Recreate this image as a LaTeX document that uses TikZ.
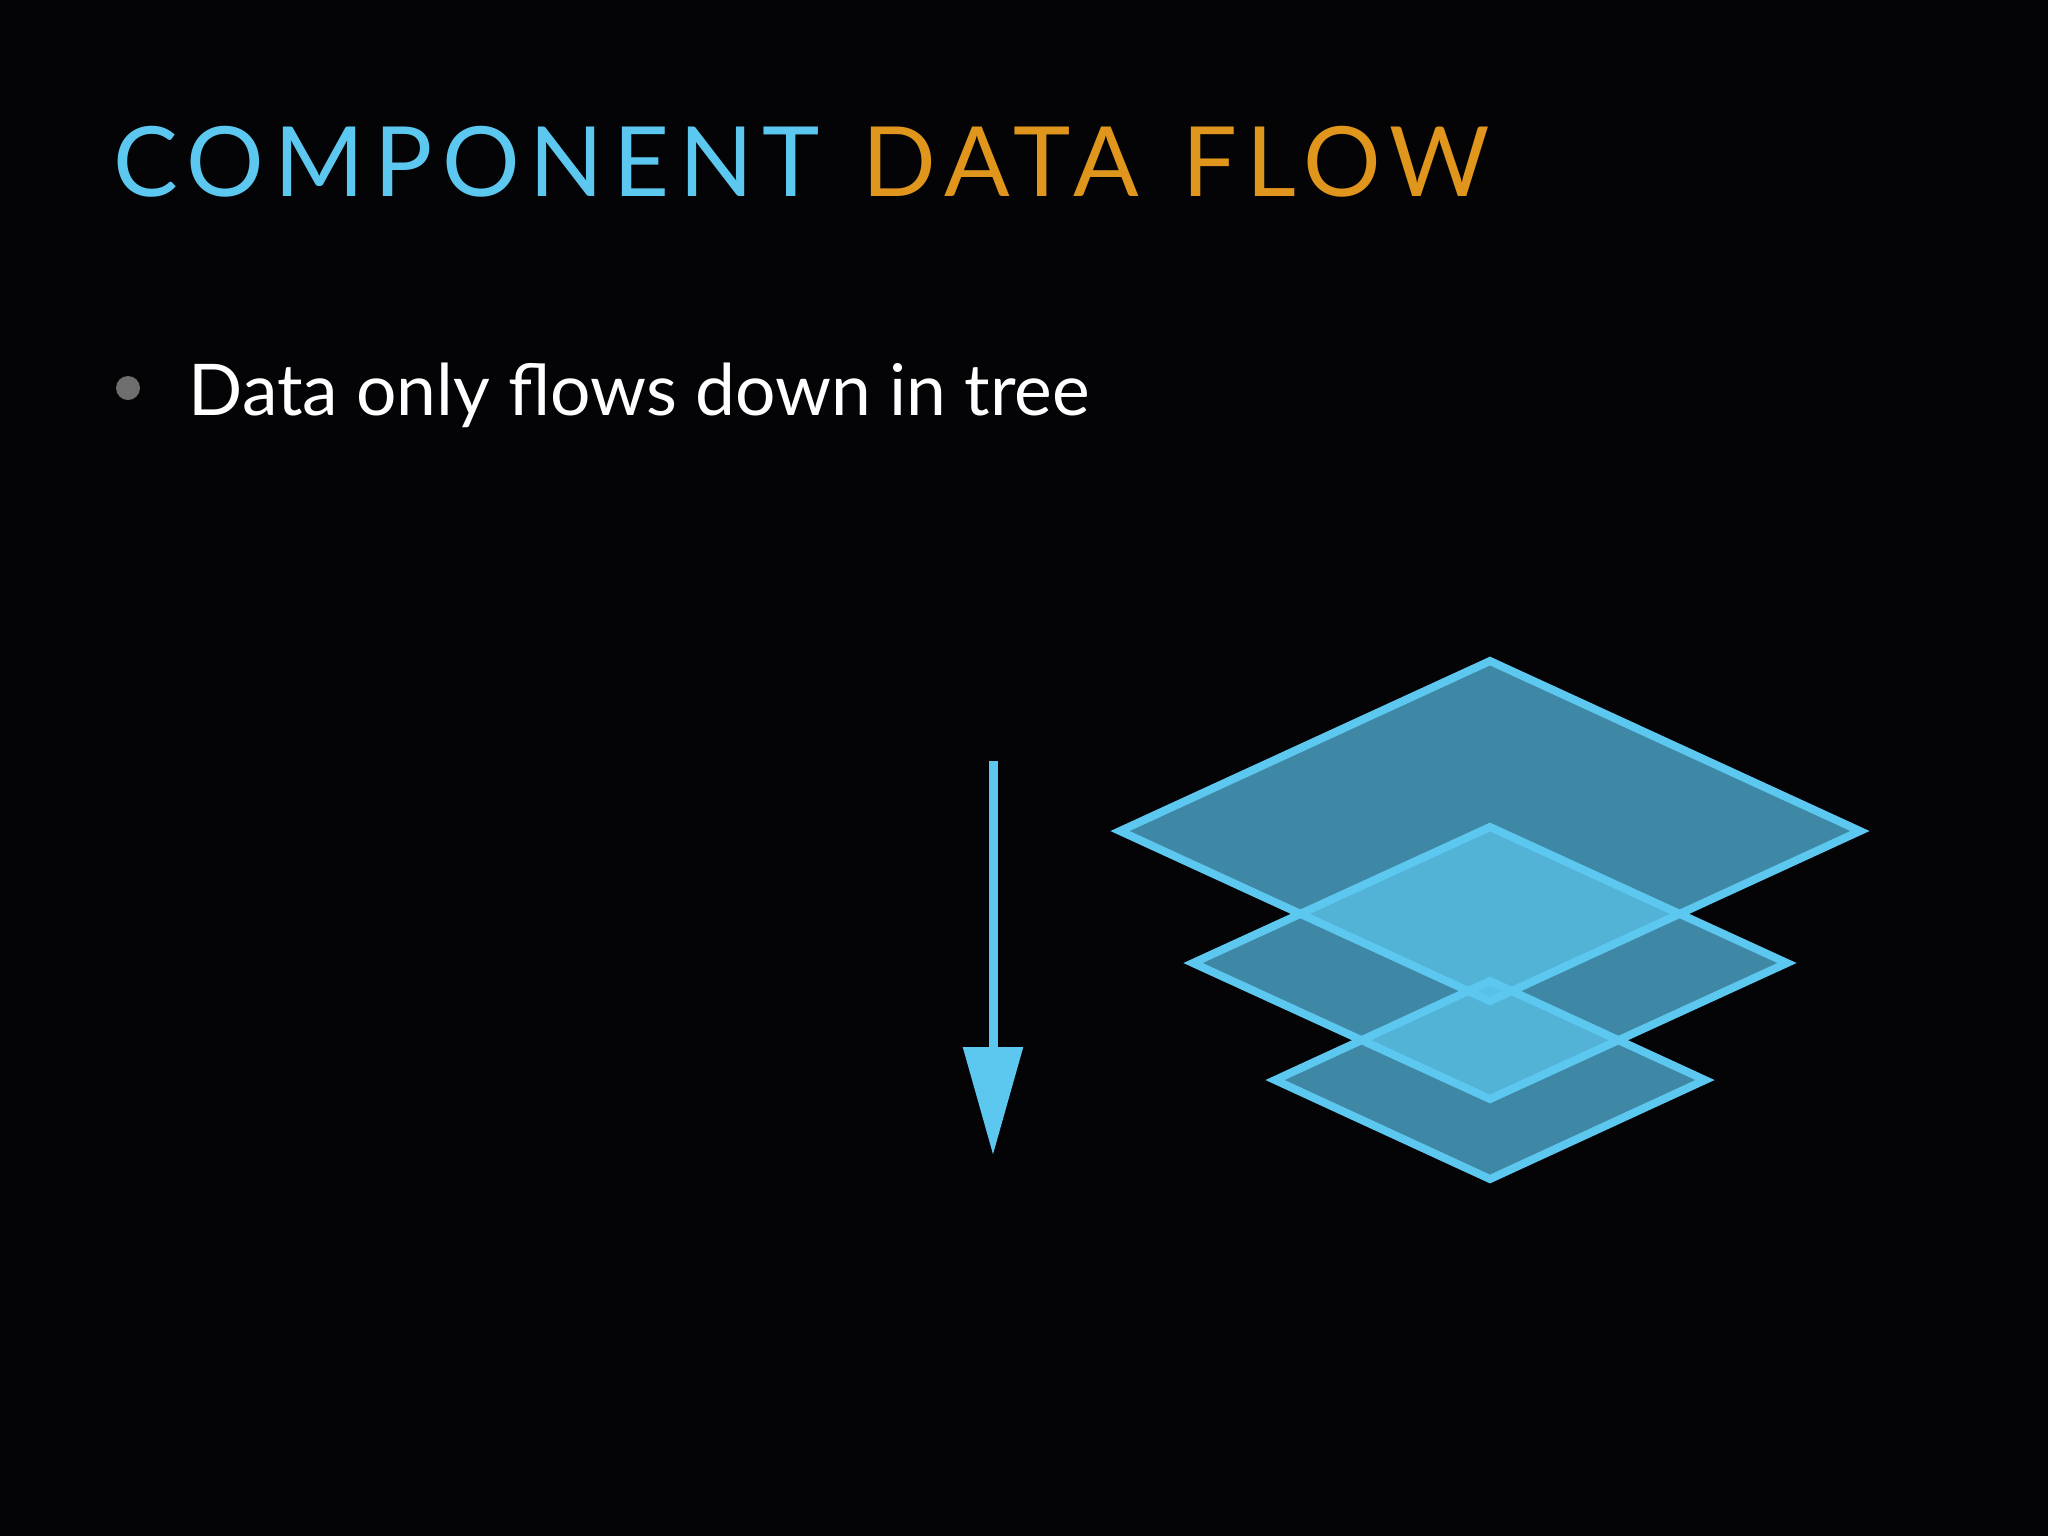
\documentclass[tikz,border=0pt]{standalone}
\usepackage{fontspec}
\setmainfont{Lato}
\newfontfamily\titlefont[LetterSpace=10, WordSpace=1.25]{Lato}
\usetikzlibrary{arrows.meta}
\definecolor{flowblue}{RGB}{92,200,240}
\definecolor{floworange}{RGB}{224,150,28}
\definecolor{slidebg}{RGB}{4,4,7}
\definecolor{bulletgray}{RGB}{110,110,110}
\tikzstyle{layerfill}=[fill=flowblue, fill opacity=0.68]
\tikzstyle{layeredge}=[draw=flowblue, line width=0.8mm, line join=miter]
\tikzset{>={Triangle[length=10.8mm, width=5.8mm]}}

\begin{document}
\begin{tikzpicture}[x=0.1mm, y=-0.1mm]
\fill[slidebg] (0,0) rectangle (2048,1536);
\useasboundingbox (0,0) rectangle (2048,1536);

% heading and bullet
\node[anchor=base west, inner sep=0pt, font=\titlefont\fontsize{27.6}{30}\selectfont] (title) at (113,196) {\textcolor{flowblue}{COMPONENT} \textcolor{floworange}{DATA FLOW}};
\node[circle, fill=bulletgray, inner sep=0pt, minimum size=2.4mm] (dot) at (128,388) {};
\node[anchor=base west, inner sep=0pt, text=white, font=\fontsize{20.3}{25}\selectfont] (point) at (188,415) {Data only flows down in tree};

% arrow
\coordinate (flowtop) at (993,761);
\coordinate (flowtip) at (993,1155);
\draw[->, flowblue, line width=0.9mm] (flowtop) -- (flowtip);

% stacked layers
\foreach \cy/\hw/\hh in {831/370/170, 963/297/136, 1080/215/99}
{
\fill[layerfill] (1490-\hw,\cy) -- (1490,\cy-\hh) -- (1490+\hw,\cy) -- (1490,\cy+\hh) -- cycle;
}
\foreach \cy/\hw/\hh in {831/370/170, 963/297/136, 1080/215/99}
{
\draw[layeredge] (1490-\hw,\cy) -- (1490,\cy-\hh) -- (1490+\hw,\cy) -- (1490,\cy+\hh) -- cycle;
}
\end{tikzpicture}
\end{document}
